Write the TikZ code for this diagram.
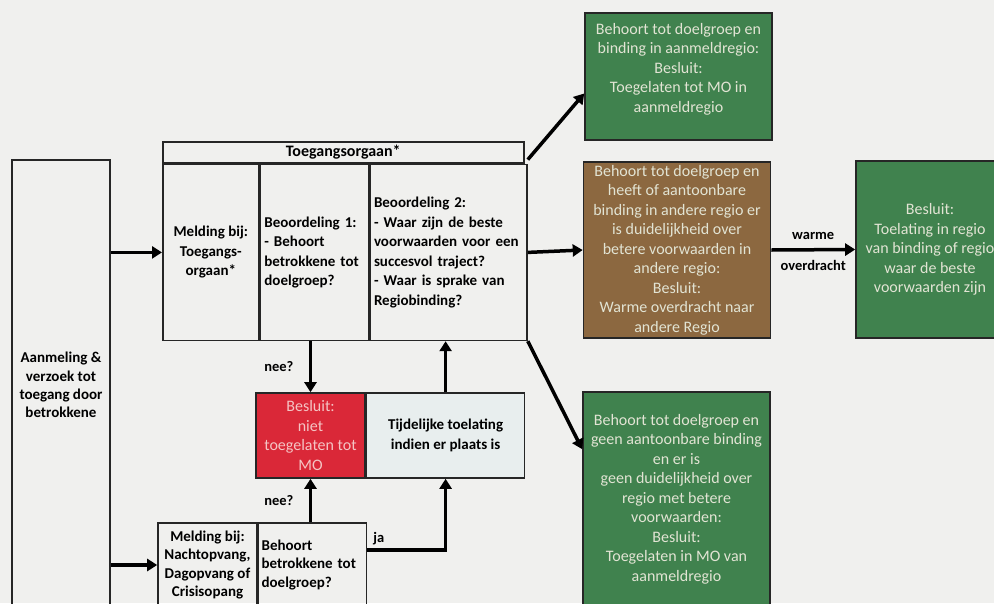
\documentclass[tikz,border=0pt]{standalone}
\usepackage{fontspec}
\setmainfont{Carlito}
\usetikzlibrary{arrows.meta,positioning}

\definecolor{papier}{RGB}{240,240,238}
\definecolor{gruen}{RGB}{64,130,78}
\definecolor{bruin}{RGB}{140,104,64}
\definecolor{rood}{RGB}{218,40,56}
\definecolor{grijs}{RGB}{232,238,238}
\definecolor{licht}{RGB}{226,228,212}
\definecolor{rosa}{RGB}{244,196,196}

\begin{document}
\begin{tikzpicture}[x=1pt, y=-1pt,
    box/.style={draw=black!85, line width=1.6pt, inner sep=2pt, align=center,
      font=\bfseries\fontsize{15}{19.5}\selectfont},
    smal/.style={font=\bfseries\fontsize{15}{18.3}\selectfont},
    cell/.style={box, minimum height=176pt},
    besluit/.style={box, text=licht, minimum width=187pt,
      font=\fontsize{16}{19.5}\selectfont},
    pijl/.style={line width=3.5pt, -{Triangle[length=10pt,width=12pt]}},
    tekst/.style={font=\bfseries\fontsize{14.5}{16}\selectfont}]

  \fill[papier] (0,0) rectangle (994,603);
  \clip (0,0) rectangle (994,603);

  % aanmelding
  \node[box, smal, minimum width=98pt, minimum height=450pt] (aanmelding) at (61,385)
    {Aanmeling \&\\verzoek tot\\toegang door\\betrokkene};

  % toegangsorgaan
  \node[box, minimum width=361pt, minimum height=21pt, anchor=north west,
    font=\bfseries\fontsize{16}{18}\selectfont] (orgaan) at (162,141)
    {Toegangsorgaan*};
  \node[cell, minimum width=96pt, anchor=north west] (meldtoeg) at (orgaan.south west)
    {Melding bij:\\Toegangs-\\orgaan*};
  \node[cell, text width=100pt, inner xsep=4pt, align=left, right=0pt of meldtoeg] (beoord1)
    {Beoordeling 1:\\- Behoort\\betrokkene tot\\doelgroep?};
  \node[cell, text width=149pt, inner xsep=4pt, align=left, right=0pt of beoord1] (beoord2)
    {Beoordeling 2:\\- Waar zijn de beste\\voorwaarden voor een\\succesvol traject?\\- Waar is sprake van\\Regiobinding?};

  % besluit midden
  \node[besluit, fill=rood, text=rosa, minimum width=109pt, minimum height=85pt] (nietmo) at (310.5,435.5)
    {Besluit:\\niet\\toegelaten tot\\MO};
  \node[box, fill=grijs, minimum width=158pt, minimum height=85pt, right=0pt of nietmo] (tijdelijk)
    {Tijdelijke toelating\\indien er plaats is};

  % opvang
  \node[box, smal, minimum width=99pt, minimum height=84pt] (meldnacht) at (207.5,565)
    {Melding bij:\\Nachtopvang,\\Dagopvang of\\Crisisopang};
  \node[box, smal, text width=102pt, inner xsep=3pt, minimum height=84pt, align=left, right=0pt of meldnacht] (behoort)
    {Behoort\\betrokkene tot\\doelgroep?};

  % uitkomsten
  \node[besluit, fill=gruen, minimum height=127pt] (groen1) at (678.5,76.5)
    {Behoort tot doelgroep en\\binding in aanmeldregio:\\Besluit:\\Toegelaten tot MO in\\aanmeldregio\\[-2pt]};
  \node[besluit, fill=bruin, minimum height=176pt] (bruin) at (677,250)
    {Behoort tot doelgroep en\\heeft of aantoonbare\\binding in andere regio er\\is duidelijkheid over\\betere voorwaarden in\\andere regio:\\Besluit:\\Warme overdracht naar\\andere Regio};
  \node[besluit, fill=gruen, minimum height=214pt] (groen2) at (676.5,499)
    {Behoort tot doelgroep en\\geen aantoonbare binding\\en er is\\geen duidelijkheid over\\regio met betere\\voorwaarden:\\Besluit:\\Toegelaten in MO van\\aanmeldregio};
  \node[besluit, minimum width=148pt, fill=gruen, minimum height=177pt] (regio) at (930,249.5)
    {Besluit:\\Toelating in regio\\van binding of regio\\waar de beste\\voorwaarden zijn};

  % pijlen
  \draw[pijl] (aanmelding.east |- meldtoeg.west) -- (meldtoeg.west);
  \draw[pijl] (aanmelding.east |- meldnacht.west) -- (meldnacht.west);
  \draw[pijl] (beoord2.east) -- (bruin.west);
  \draw[pijl] ([yshift=4pt]beoord2.north east) -- ([yshift=-17pt]groen1.west);
  \draw[pijl] (beoord2.south east) -- ([yshift=-58pt]groen2.north west);
  \draw[pijl] (bruin.east) -- (regio.west)
    node[tekst, midway, above=5pt] {warme}
    node[tekst, midway, below=5pt] {overdracht};
  \draw[pijl] (nietmo.north |- beoord1.south) -- (nietmo.north)
    node[tekst, midway, left=12pt] {nee?};
  \draw[pijl] (tijdelijk.north) -- (tijdelijk.north |- beoord2.south);
  \draw[pijl] (nietmo.south |- behoort.north) -- (nietmo.south)
    node[tekst, midway, left=12pt] {nee?};
  \draw[pijl] ([yshift=15pt]behoort.east) -| (tijdelijk.south)
    node[tekst, pos=0, anchor=south west, xshift=1pt] {ja};
\end{tikzpicture}
\end{document}
